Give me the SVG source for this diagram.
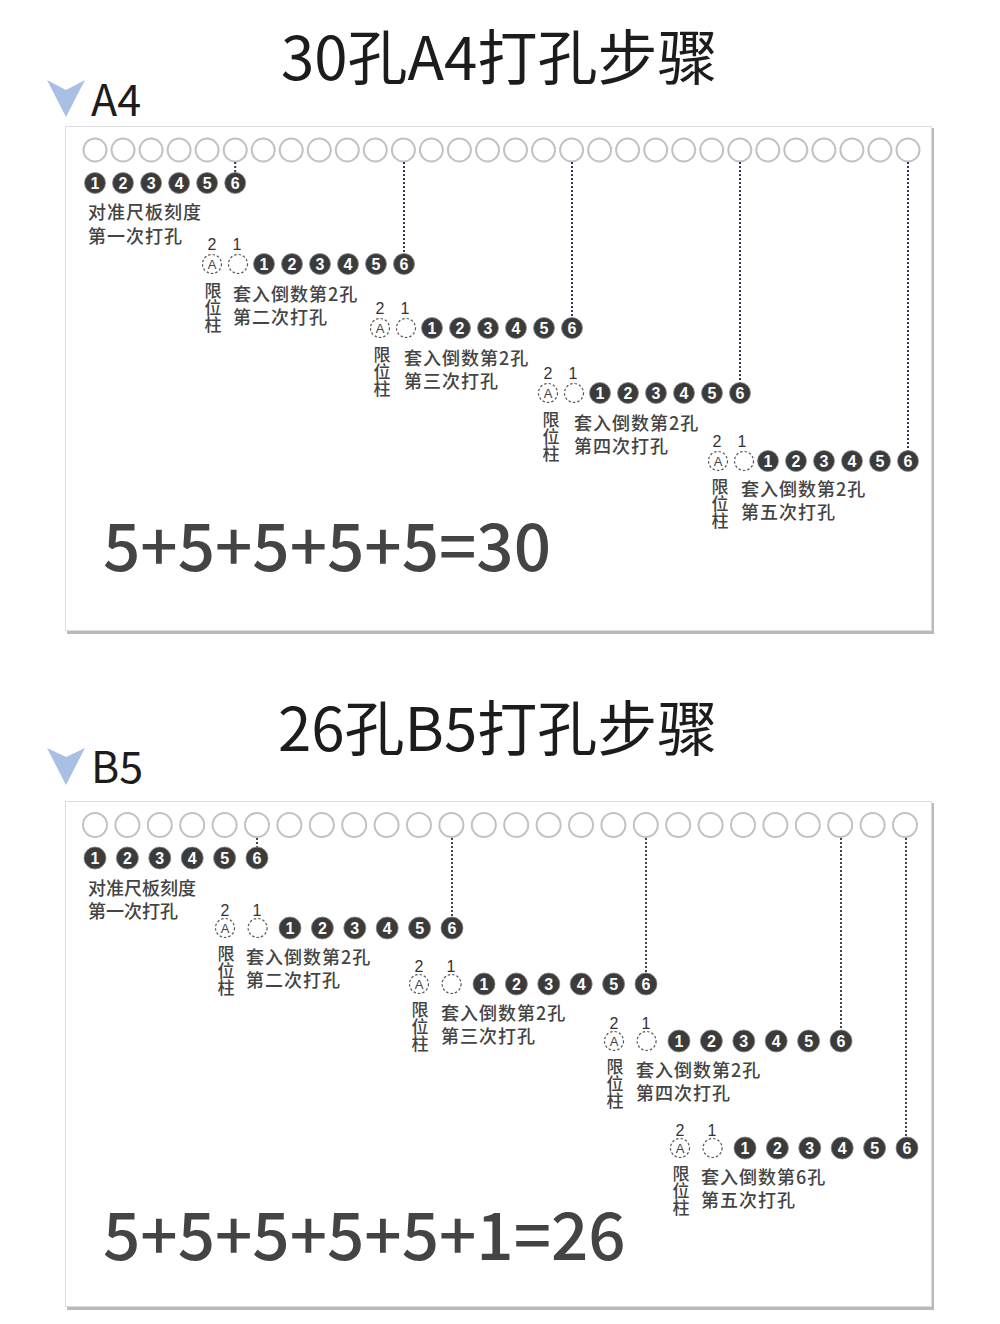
<svg xmlns="http://www.w3.org/2000/svg" width="1000" height="1324" viewBox="0 0 1000 1324">
<defs>
<style>
text{font-family:"Noto Sans CJK SC","Noto Sans",sans-serif}
.title{font-size:60px;fill:#1c1c1c}
.lab{font-size:43px;fill:#1c1c1c}
.eq{font-size:65.5px;fill:#444;font-weight:500}
.shadow{fill:#b9b9b9}
.card{fill:#fff;stroke:#dcdcdc;stroke-width:1}
.hole{fill:#fff;stroke:#c2c2c2;stroke-width:2}
.num{fill:#3b3b3b;stroke:#8a8a8a;stroke-width:0.8}
.nt{font-size:16px;font-weight:bold;fill:#fff;text-anchor:middle;font-family:"Liberation Sans",sans-serif}
.dc{fill:#fff;stroke:#555;stroke-width:1.2;stroke-dasharray:2.5 2}
.at{font-size:13px;fill:#444;text-anchor:middle;font-family:"Liberation Sans",sans-serif}
.dl{font-size:16px;fill:#333;text-anchor:middle;font-family:"Liberation Sans",sans-serif}
.cn{font-size:18px;fill:#444;font-weight:500;letter-spacing:1px}
.cs{font-size:18px;fill:#444;font-weight:500}
.vt{font-size:17px;fill:#444;font-weight:500;writing-mode:vertical-rl}
.dotA{stroke:#3e3158;stroke-width:2;stroke-dasharray:2 2;fill:none}
.dotB{stroke:#444;stroke-width:2;stroke-dasharray:2 2;fill:none}
.tri{fill:#a9c0e4}
</style>
</defs>
<rect width="1000" height="1324" fill="#fff"/>

<!-- ============ A4 ============ -->
<g id="a4-header">
<polygon class="tri" points="47,80 66,90 85,80 66,117"/>
<text class="lab" x="91" y="116">A4</text>
<text class="title" x="281" y="80">30孔A4打孔步骤</text>
</g>
<g id="a4-card">
<rect class="shadow" x="67" y="128" width="867" height="506"/>
<rect class="card" x="65.5" y="126.5" width="866" height="504"/>
</g>
<g id="a4-holes">
<circle class="hole" cx="95" cy="150" r="11.5"/><circle class="hole" cx="123" cy="150" r="11.5"/><circle class="hole" cx="151.1" cy="150" r="11.5"/><circle class="hole" cx="179.1" cy="150" r="11.5"/><circle class="hole" cx="207.1" cy="150" r="11.5"/><circle class="hole" cx="235.2" cy="150" r="11.5"/><circle class="hole" cx="263.2" cy="150" r="11.5"/><circle class="hole" cx="291.2" cy="150" r="11.5"/><circle class="hole" cx="319.3" cy="150" r="11.5"/><circle class="hole" cx="347.3" cy="150" r="11.5"/><circle class="hole" cx="375.3" cy="150" r="11.5"/><circle class="hole" cx="403.4" cy="150" r="11.5"/><circle class="hole" cx="431.4" cy="150" r="11.5"/><circle class="hole" cx="459.4" cy="150" r="11.5"/><circle class="hole" cx="487.5" cy="150" r="11.5"/><circle class="hole" cx="515.5" cy="150" r="11.5"/><circle class="hole" cx="543.5" cy="150" r="11.5"/><circle class="hole" cx="571.6" cy="150" r="11.5"/><circle class="hole" cx="599.6" cy="150" r="11.5"/><circle class="hole" cx="627.6" cy="150" r="11.5"/><circle class="hole" cx="655.7" cy="150" r="11.5"/><circle class="hole" cx="683.7" cy="150" r="11.5"/><circle class="hole" cx="711.7" cy="150" r="11.5"/><circle class="hole" cx="739.8" cy="150" r="11.5"/><circle class="hole" cx="767.8" cy="150" r="11.5"/><circle class="hole" cx="795.8" cy="150" r="11.5"/><circle class="hole" cx="823.9" cy="150" r="11.5"/><circle class="hole" cx="851.9" cy="150" r="11.5"/><circle class="hole" cx="879.9" cy="150" r="11.5"/><circle class="hole" cx="908" cy="150" r="11.5"/>
</g>
<g id="a4-connectors">
<line class="dotA" x1="235.2" y1="162" x2="235.2" y2="172"/>
<line class="dotA" x1="404" y1="162" x2="404" y2="254"/>
<line class="dotA" x1="572" y1="162" x2="572" y2="318"/>
<line class="dotA" x1="740" y1="162" x2="740" y2="383"/>
<line class="dotA" x1="908" y1="162" x2="908" y2="451"/>
</g>
<g id="a4-step1">
<circle class="num" cx="95" cy="183" r="10.5"/><text class="nt" x="95" y="188.5">1</text>
<circle class="num" cx="123" cy="183" r="10.5"/><text class="nt" x="123" y="188.5">2</text>
<circle class="num" cx="151.1" cy="183" r="10.5"/><text class="nt" x="151.1" y="188.5">3</text>
<circle class="num" cx="179.1" cy="183" r="10.5"/><text class="nt" x="179.1" y="188.5">4</text>
<circle class="num" cx="207.1" cy="183" r="10.5"/><text class="nt" x="207.1" y="188.5">5</text>
<circle class="num" cx="235.2" cy="183" r="10.5"/><text class="nt" x="235.2" y="188.5">6</text>
<text class="cn"><tspan x="88" y="219">对准尺板刻度</tspan><tspan x="88" y="243">第一次打孔</tspan></text>
</g>
<g id="a4-step2" transform="translate(264,264)">
<text class="dl" x="-52" y="-14">2</text><text class="dl" x="-27" y="-14">1</text>
<circle class="dc" cx="-52" cy="0" r="9.5"/><text class="at" x="-52" y="4.5">A</text>
<circle class="dc" cx="-26" cy="0" r="9.5"/>
<circle class="num" cx="0" cy="0" r="10.5"/><text class="nt" x="0" y="5.5">1</text>
<circle class="num" cx="28" cy="0" r="10.5"/><text class="nt" x="28" y="5.5">2</text>
<circle class="num" cx="56" cy="0" r="10.5"/><text class="nt" x="56" y="5.5">3</text>
<circle class="num" cx="84" cy="0" r="10.5"/><text class="nt" x="84" y="5.5">4</text>
<circle class="num" cx="112" cy="0" r="10.5"/><text class="nt" x="112" y="5.5">5</text>
<circle class="num" cx="140" cy="0" r="10.5"/><text class="nt" x="140" y="5.5">6</text>
<text class="vt" x="-51" y="18">限位柱</text>
<text class="cn"><tspan x="-31" y="37">套入倒数第2孔</tspan><tspan x="-31" y="60">第二次打孔</tspan></text>
</g>
<g id="a4-step3" transform="translate(432,328)">
<text class="dl" x="-52" y="-14">2</text><text class="dl" x="-27" y="-14">1</text>
<circle class="dc" cx="-52" cy="0" r="9.5"/><text class="at" x="-52" y="4.5">A</text>
<circle class="dc" cx="-26" cy="0" r="9.5"/>
<circle class="num" cx="0" cy="0" r="10.5"/><text class="nt" x="0" y="5.5">1</text>
<circle class="num" cx="28" cy="0" r="10.5"/><text class="nt" x="28" y="5.5">2</text>
<circle class="num" cx="56" cy="0" r="10.5"/><text class="nt" x="56" y="5.5">3</text>
<circle class="num" cx="84" cy="0" r="10.5"/><text class="nt" x="84" y="5.5">4</text>
<circle class="num" cx="112" cy="0" r="10.5"/><text class="nt" x="112" y="5.5">5</text>
<circle class="num" cx="140" cy="0" r="10.5"/><text class="nt" x="140" y="5.5">6</text>
<text class="vt" x="-50" y="18">限位柱</text>
<text class="cn"><tspan x="-28" y="37">套入倒数第2孔</tspan><tspan x="-28" y="60">第三次打孔</tspan></text>
</g>
<g id="a4-step4" transform="translate(600,393)">
<text class="dl" x="-52" y="-14">2</text><text class="dl" x="-27" y="-14">1</text>
<circle class="dc" cx="-52" cy="0" r="9.5"/><text class="at" x="-52" y="4.5">A</text>
<circle class="dc" cx="-26" cy="0" r="9.5"/>
<circle class="num" cx="0" cy="0" r="10.5"/><text class="nt" x="0" y="5.5">1</text>
<circle class="num" cx="28" cy="0" r="10.5"/><text class="nt" x="28" y="5.5">2</text>
<circle class="num" cx="56" cy="0" r="10.5"/><text class="nt" x="56" y="5.5">3</text>
<circle class="num" cx="84" cy="0" r="10.5"/><text class="nt" x="84" y="5.5">4</text>
<circle class="num" cx="112" cy="0" r="10.5"/><text class="nt" x="112" y="5.5">5</text>
<circle class="num" cx="140" cy="0" r="10.5"/><text class="nt" x="140" y="5.5">6</text>
<text class="vt" x="-49" y="18">限位柱</text>
<text class="cn"><tspan x="-26" y="37">套入倒数第2孔</tspan><tspan x="-26" y="60">第四次打孔</tspan></text>
</g>
<g id="a4-step5" transform="translate(768,461)">
<text class="dl" x="-51" y="-14">2</text><text class="dl" x="-26" y="-14">1</text>
<circle class="dc" cx="-50" cy="0" r="9.5"/><text class="at" x="-50" y="4.5">A</text>
<circle class="dc" cx="-24" cy="0" r="9.5"/>
<circle class="num" cx="0" cy="0" r="10.5"/><text class="nt" x="0" y="5.5">1</text>
<circle class="num" cx="28" cy="0" r="10.5"/><text class="nt" x="28" y="5.5">2</text>
<circle class="num" cx="56" cy="0" r="10.5"/><text class="nt" x="56" y="5.5">3</text>
<circle class="num" cx="84" cy="0" r="10.5"/><text class="nt" x="84" y="5.5">4</text>
<circle class="num" cx="112" cy="0" r="10.5"/><text class="nt" x="112" y="5.5">5</text>
<circle class="num" cx="140" cy="0" r="10.5"/><text class="nt" x="140" y="5.5">6</text>
<text class="vt" x="-48" y="17">限位柱</text>
<text class="cn"><tspan x="-27" y="35">套入倒数第2孔</tspan><tspan x="-27" y="58">第五次打孔</tspan></text>
</g>
<g id="a4-equation">
<text class="eq" x="103" y="571">5+5+5+5+5=30</text>
</g>

<!-- ============ B5 ============ -->
<g id="b5-header">
<polygon class="tri" points="47,748 66,757 85,748 66,785"/>
<text class="lab" x="91" y="783">B5</text>
<text class="title" x="278" y="751">26孔B5打孔步骤</text>
</g>
<g id="b5-card">
<rect class="shadow" x="67" y="803" width="867" height="507"/>
<rect class="card" x="65.5" y="801.5" width="866" height="505"/>
</g>
<g id="b5-holes">
<circle class="hole" cx="95" cy="825" r="12"/><circle class="hole" cx="127.4" cy="825" r="12"/><circle class="hole" cx="159.8" cy="825" r="12"/><circle class="hole" cx="192.2" cy="825" r="12"/><circle class="hole" cx="224.6" cy="825" r="12"/><circle class="hole" cx="257" cy="825" r="12"/><circle class="hole" cx="289.4" cy="825" r="12"/><circle class="hole" cx="321.8" cy="825" r="12"/><circle class="hole" cx="354.2" cy="825" r="12"/><circle class="hole" cx="386.6" cy="825" r="12"/><circle class="hole" cx="419" cy="825" r="12"/><circle class="hole" cx="451.4" cy="825" r="12"/><circle class="hole" cx="483.8" cy="825" r="12"/><circle class="hole" cx="516.2" cy="825" r="12"/><circle class="hole" cx="548.6" cy="825" r="12"/><circle class="hole" cx="581" cy="825" r="12"/><circle class="hole" cx="613.4" cy="825" r="12"/><circle class="hole" cx="645.8" cy="825" r="12"/><circle class="hole" cx="678.2" cy="825" r="12"/><circle class="hole" cx="710.6" cy="825" r="12"/><circle class="hole" cx="743" cy="825" r="12"/><circle class="hole" cx="775.4" cy="825" r="12"/><circle class="hole" cx="807.8" cy="825" r="12"/><circle class="hole" cx="840.2" cy="825" r="12"/><circle class="hole" cx="872.6" cy="825" r="12"/><circle class="hole" cx="905" cy="825" r="12"/>
</g>
<g id="b5-connectors">
<line class="dotB" x1="257" y1="838" x2="257" y2="848"/>
<line class="dotB" x1="452" y1="838" x2="452" y2="918"/>
<line class="dotB" x1="646" y1="838" x2="646" y2="974"/>
<line class="dotB" x1="841" y1="838" x2="841" y2="1031"/>
<line class="dotB" x1="906" y1="838" x2="906" y2="1138"/>
</g>
<g id="b5-step1">
<circle class="num" cx="95" cy="858" r="11"/><text class="nt" x="95" y="863.5">1</text>
<circle class="num" cx="127.4" cy="858" r="11"/><text class="nt" x="127.4" y="863.5">2</text>
<circle class="num" cx="159.8" cy="858" r="11"/><text class="nt" x="159.8" y="863.5">3</text>
<circle class="num" cx="192.2" cy="858" r="11"/><text class="nt" x="192.2" y="863.5">4</text>
<circle class="num" cx="224.6" cy="858" r="11"/><text class="nt" x="224.6" y="863.5">5</text>
<circle class="num" cx="257" cy="858" r="11"/><text class="nt" x="257" y="863.5">6</text>
<text class="cs"><tspan x="88" y="895">对准尺板刻度</tspan><tspan x="88" y="918">第一次打孔</tspan></text>
</g>
<g id="b5-step2" transform="translate(290,928)">
<text class="dl" x="-65" y="-12">2</text><text class="dl" x="-33" y="-12">1</text>
<circle class="dc" cx="-65" cy="0" r="9.5"/><text class="at" x="-65" y="4.5">A</text>
<circle class="dc" cx="-32.4" cy="0" r="9.5"/>
<circle class="num" cx="0" cy="0" r="11"/><text class="nt" x="0" y="5.5">1</text>
<circle class="num" cx="32.4" cy="0" r="11"/><text class="nt" x="32.4" y="5.5">2</text>
<circle class="num" cx="64.8" cy="0" r="11"/><text class="nt" x="64.8" y="5.5">3</text>
<circle class="num" cx="97.2" cy="0" r="11"/><text class="nt" x="97.2" y="5.5">4</text>
<circle class="num" cx="129.6" cy="0" r="11"/><text class="nt" x="129.6" y="5.5">5</text>
<circle class="num" cx="162" cy="0" r="11"/><text class="nt" x="162" y="5.5">6</text>
<text class="vt" x="-64" y="17">限位柱</text>
<text class="cn"><tspan x="-44" y="36">套入倒数第2孔</tspan><tspan x="-44" y="59">第二次打孔</tspan></text>
</g>
<g id="b5-step3" transform="translate(484,984)">
<text class="dl" x="-65" y="-12">2</text><text class="dl" x="-33" y="-12">1</text>
<circle class="dc" cx="-65" cy="0" r="9.5"/><text class="at" x="-65" y="4.5">A</text>
<circle class="dc" cx="-32.4" cy="0" r="9.5"/>
<circle class="num" cx="0" cy="0" r="11"/><text class="nt" x="0" y="5.5">1</text>
<circle class="num" cx="32.4" cy="0" r="11"/><text class="nt" x="32.4" y="5.5">2</text>
<circle class="num" cx="64.8" cy="0" r="11"/><text class="nt" x="64.8" y="5.5">3</text>
<circle class="num" cx="97.2" cy="0" r="11"/><text class="nt" x="97.2" y="5.5">4</text>
<circle class="num" cx="129.6" cy="0" r="11"/><text class="nt" x="129.6" y="5.5">5</text>
<circle class="num" cx="162" cy="0" r="11"/><text class="nt" x="162" y="5.5">6</text>
<text class="vt" x="-64" y="17">限位柱</text>
<text class="cn"><tspan x="-43" y="36">套入倒数第2孔</tspan><tspan x="-43" y="59">第三次打孔</tspan></text>
</g>
<g id="b5-step4" transform="translate(679,1041)">
<text class="dl" x="-65" y="-12">2</text><text class="dl" x="-33" y="-12">1</text>
<circle class="dc" cx="-65" cy="0" r="9.5"/><text class="at" x="-65" y="4.5">A</text>
<circle class="dc" cx="-32.4" cy="0" r="9.5"/>
<circle class="num" cx="0" cy="0" r="11"/><text class="nt" x="0" y="5.5">1</text>
<circle class="num" cx="32.4" cy="0" r="11"/><text class="nt" x="32.4" y="5.5">2</text>
<circle class="num" cx="64.8" cy="0" r="11"/><text class="nt" x="64.8" y="5.5">3</text>
<circle class="num" cx="97.2" cy="0" r="11"/><text class="nt" x="97.2" y="5.5">4</text>
<circle class="num" cx="129.6" cy="0" r="11"/><text class="nt" x="129.6" y="5.5">5</text>
<circle class="num" cx="162" cy="0" r="11"/><text class="nt" x="162" y="5.5">6</text>
<text class="vt" x="-64" y="17">限位柱</text>
<text class="cn"><tspan x="-43" y="36">套入倒数第2孔</tspan><tspan x="-43" y="59">第四次打孔</tspan></text>
</g>
<g id="b5-step5" transform="translate(745,1148)">
<text class="dl" x="-65" y="-12">2</text><text class="dl" x="-33" y="-12">1</text>
<circle class="dc" cx="-65" cy="0" r="9.5"/><text class="at" x="-65" y="4.5">A</text>
<circle class="dc" cx="-32.4" cy="0" r="9.5"/>
<circle class="num" cx="0" cy="0" r="11"/><text class="nt" x="0" y="5.5">1</text>
<circle class="num" cx="32.4" cy="0" r="11"/><text class="nt" x="32.4" y="5.5">2</text>
<circle class="num" cx="64.8" cy="0" r="11"/><text class="nt" x="64.8" y="5.5">3</text>
<circle class="num" cx="97.2" cy="0" r="11"/><text class="nt" x="97.2" y="5.5">4</text>
<circle class="num" cx="129.6" cy="0" r="11"/><text class="nt" x="129.6" y="5.5">5</text>
<circle class="num" cx="162" cy="0" r="11"/><text class="nt" x="162" y="5.5">6</text>
<text class="vt" x="-64" y="17">限位柱</text>
<text class="cn"><tspan x="-44" y="36">套入倒数第6孔</tspan><tspan x="-44" y="59">第五次打孔</tspan></text>
</g>
<g id="b5-equation">
<text class="eq" x="103" y="1260">5+5+5+5+5+1=26</text>
</g>
</svg>
